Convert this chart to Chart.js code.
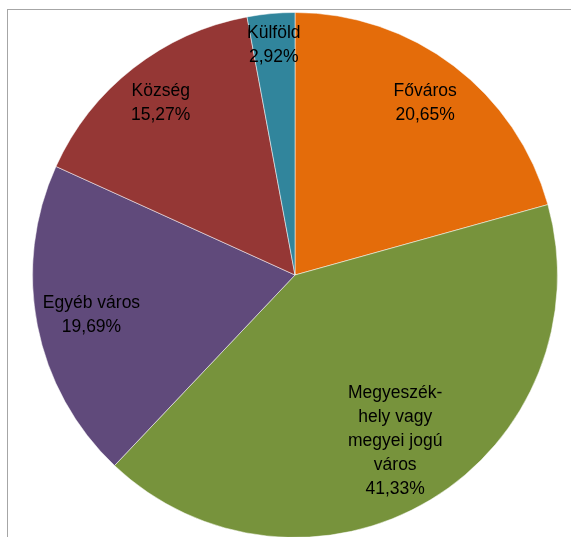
<!DOCTYPE html>
<html>
<head>
<meta charset="utf-8">
<script src="https://cdn.jsdelivr.net/npm/chart.js@4"></script>
<style>
  body { margin: 0; background: #fff; width: 571px; height: 537px; overflow: hidden; position: relative; }
  #frame { position: absolute; left: 7px; top: 9px; width: 700px; height: 700px; border-left: 1px solid #a6a6a6; border-top: 1px solid #a6a6a6; }
  #myChart { position: absolute; left: 32px; top: 12px; }
</style>
</head>
<body>
<div id="frame"></div>
<canvas id="myChart" width="526" height="526"></canvas>
<script>
const categories = ["Főváros", "Megyeszékhely vagy megyei jogú város", "Egyéb város", "Község", "Külföld"];
const labelLines = [["Főváros"], ["Megyeszék-", "hely vagy", "megyei jogú", "város"], ["Egyéb város"], ["Község"], ["Külföld"]];
const shares = [20.65, 41.33, 19.69, 15.27, 2.92];
const sliceColors = ["#E46C0A", "#77933C", "#604A7B", "#953735", "#31859C"];

// where the labels sit, as part of the radius
let labelDist = [0.82, 0.74, 0.79, 0.83, 0.88];

const sliceLabels = {
  id: "sliceLabels",
  afterDatasetsDraw(chart) {
    let ctx = chart.ctx;
    let arcs = chart.getDatasetMeta(0).data;
    ctx.save();
    ctx.font = "17.5px 'Liberation Sans'";
    ctx.fillStyle = "#000";
    ctx.textAlign = "center";
    ctx.textBaseline = "middle";
    arcs.forEach((arc, i) => {
      let p = arc.getProps(["x", "y", "startAngle", "endAngle", "outerRadius"], true);
      let mid = (p.startAngle + p.endAngle) / 2;
      let cx = p.x + Math.cos(mid) * p.outerRadius * labelDist[i];
      let cy = p.y + Math.sin(mid) * p.outerRadius * labelDist[i];
      let lines = labelLines[i].concat([shares[i].toFixed(2).replace(".", ",") + "%"]);
      let lh = 24;
      let y0 = cy - (lines.length - 1) * lh / 2;
      lines.forEach((t, j) => ctx.fillText(t, cx, y0 + j * lh));
    });
    ctx.restore();
  }
};

new Chart(document.getElementById("myChart"), {
  type: "pie",
  data: {
    labels: categories,
    datasets: [{
      data: shares,
      backgroundColor: sliceColors,
      borderColor: "rgba(255,255,255,0.5)",
      borderWidth: 1
    }]
  },
  options: {
    responsive: false,
    animation: false,
    layout: { padding: 0 },
    plugins: {
      legend: { display: false },
      tooltip: { enabled: false }
    }
  },
  plugins: [sliceLabels]
});
</script>
</body>
</html>
